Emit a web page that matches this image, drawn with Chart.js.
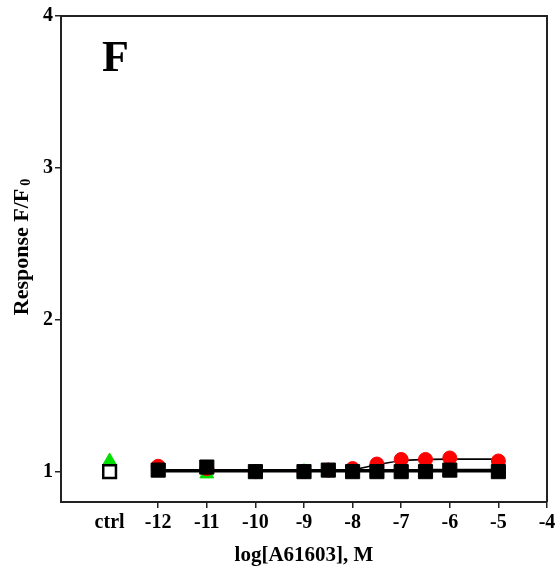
<!DOCTYPE html>
<html><head><meta charset="utf-8">
<script src="https://cdn.jsdelivr.net/npm/chart.js@4.4.0/dist/chart.umd.min.js"></script>
<style>html,body{margin:0;padding:0;background:#fff}</style>
</head><body>
<canvas id="c" width="559" height="570" style="width:559px;height:570px;display:block"></canvas>
<script>
// ---- data ----
const concLog   = [-12, -11, -10, -9, -8.5, -8, -7.5, -7, -6.5, -6, -5];
const blackVals = [1.01, 1.03, 1.00, 1.00, 1.01, 1.00, 1.00, 1.00, 1.00, 1.01, 1.00];
const redVals   = [1.035, 1.02, 1.00, 1.00, 1.01, 1.02, 1.05, 1.08, 1.08, 1.09, 1.07];
const greenVals = [0.995, 0.985, 0.995, 1.00, 1.00, 1.00, 1.00, 1.00, 1.00, 0.995, 1.00];
const ctrlX = -13;
const ctrlBlack = 1.00;
const ctrlGreen = 1.07;
const fitX      = [-12, -11, -10, -9, -8.5, -8, -7.5, -7, -6.5, -6, -5];
const fitRed    = [1.005, 1.005, 1.005, 1.005, 1.007, 1.013, 1.045, 1.072, 1.080, 1.082, 1.082];
const fitBlack  = [1.007, 1.007, 1.007, 1.007, 1.007, 1.007, 1.007, 1.007, 1.008, 1.009, 1.010];
const fitGreen  = [1.000, 1.000, 1.000, 1.000, 1.000, 1.000, 1.000, 1.000, 1.000, 1.000, 1.000];
const xTicks      = [-13, -12, -11, -10, -9, -8, -7, -6, -5, -4];
const xTickLabels = ['ctrl', '-12', '-11', '-10', '-9', '-8', '-7', '-6', '-5', '-4'];
const yTicks      = [1, 2, 3, 4];
const panelLabel  = 'F';
const xTitle      = 'log[A61603], M';
const yTitleMain  = 'Response F/F';
const yTitleSub   = '0';

const pts = (xs, ys) => xs.map((x, i) => ({x: x, y: ys[i]}));
const SERIF = '"Liberation Serif", "DejaVu Serif", serif';
const GREEN = '#00e000';

const decor = {
  id: 'decor',
  afterDraw(chart) {
    const {ctx, chartArea: a} = chart;
    ctx.save();
    // top and right frame
    ctx.strokeStyle = '#222';
    ctx.lineWidth = 2;
    ctx.beginPath();
    ctx.moveTo(a.left, a.top);
    ctx.lineTo(a.right, a.top);
    ctx.lineTo(a.right, a.bottom);
    ctx.stroke();
    // panel label
    ctx.fillStyle = '#000';
    ctx.font = 'bold 44px ' + SERIF;
    ctx.textBaseline = 'alphabetic';
    ctx.textAlign = 'left';
    ctx.fillText(panelLabel, a.left + 41, a.top + 55);
    // x title
    ctx.font = 'bold 21px ' + SERIF;
    ctx.textAlign = 'center';
    ctx.fillText(xTitle, (a.left + a.right) / 2, 561);
    // y title with subscript
    ctx.translate(28, 247);
    ctx.rotate(-Math.PI / 2);
    ctx.font = 'bold 22px ' + SERIF;
    const w1 = ctx.measureText(yTitleMain).width;
    ctx.font = 'bold 14px ' + SERIF;
    const w2 = ctx.measureText(yTitleSub).width;
    const start = -(w1 + w2 + 3) / 2;
    ctx.textAlign = 'left';
    ctx.font = 'bold 22px ' + SERIF;
    ctx.fillText(yTitleMain, start, 0);
    ctx.font = 'bold 14px ' + SERIF;
    ctx.fillText(yTitleSub, start + w1 + 3, 2);
    ctx.restore();
  }
};

new Chart(document.getElementById('c'), {
  type: 'scatter',
  data: {
    datasets: [
      {data: pts(concLog, blackVals), pointStyle: 'rect', pointRadius: 10, backgroundColor: '#000', borderColor: '#000', borderWidth: 1, showLine: false},
      {data: [{x: ctrlX, y: ctrlBlack}], pointStyle: 'rect', pointRadius: 9, backgroundColor: '#fff', borderColor: '#000', borderWidth: 2.5, showLine: false},
      {data: pts(fitX, fitBlack), showLine: true, borderColor: '#000', borderWidth: 3, pointRadius: 0, cubicInterpolationMode: 'monotone'},
      {data: pts(concLog, redVals), pointStyle: 'circle', pointRadius: 7, backgroundColor: '#ff0000', borderColor: '#ff0000', borderWidth: 1, showLine: false},
      {data: pts(fitX, fitRed), showLine: true, borderColor: '#000', borderWidth: 1.6, pointRadius: 0, cubicInterpolationMode: 'monotone'},
      {data: pts(concLog, greenVals), pointStyle: 'triangle', pointRadius: 8, backgroundColor: GREEN, borderColor: GREEN, borderWidth: 1, showLine: false},
      {data: [{x: ctrlX, y: ctrlGreen}], pointStyle: 'triangle', pointRadius: 8, backgroundColor: GREEN, borderColor: GREEN, borderWidth: 1, showLine: false},
      {data: pts(fitX, fitGreen), showLine: true, borderColor: '#000', borderWidth: 1.6, pointRadius: 0, cubicInterpolationMode: 'monotone'}
    ]
  },
  options: {
    responsive: false,
    animation: false,
    devicePixelRatio: 1,
    layout: {padding: {left: 0, top: 16, right: 12, bottom: 0}},
    plugins: {legend: {display: false}, tooltip: {enabled: false}},
    scales: {
      x: {
        type: 'linear', min: -14, max: -4,
        afterBuildTicks: s => { s.ticks = xTicks.map(v => ({value: v})); },
        afterFit: s => { s.height = 68; },
        ticks: {
          autoSkip: false, maxRotation: 0, padding: 3, color: '#000',
          font: {family: SERIF, weight: 'bold', size: 20},
          callback: v => { const i = xTicks.indexOf(v); return i >= 0 ? xTickLabels[i] : ''; }
        },
        grid: {
          drawOnChartArea: false, tickLength: 6, lineWidth: 1.5,
          tickColor: c => (c.tick && c.tick.value === ctrlX) ? 'rgba(0,0,0,0)' : '#222'
        },
        border: {color: '#222', width: 2}
      },
      y: {
        type: 'linear', min: 0.8, max: 4,
        afterBuildTicks: s => { s.ticks = yTicks.map(v => ({value: v})); },
        afterFit: s => { s.width = 61; },
        ticks: {padding: 2, color: '#000', font: {family: SERIF, weight: 'bold', size: 20}},
        grid: {drawOnChartArea: false, tickLength: 6, lineWidth: 1.5, tickColor: '#222'},
        border: {color: '#222', width: 2}
      }
    }
  },
  plugins: [decor]
});
</script>
</body></html>
